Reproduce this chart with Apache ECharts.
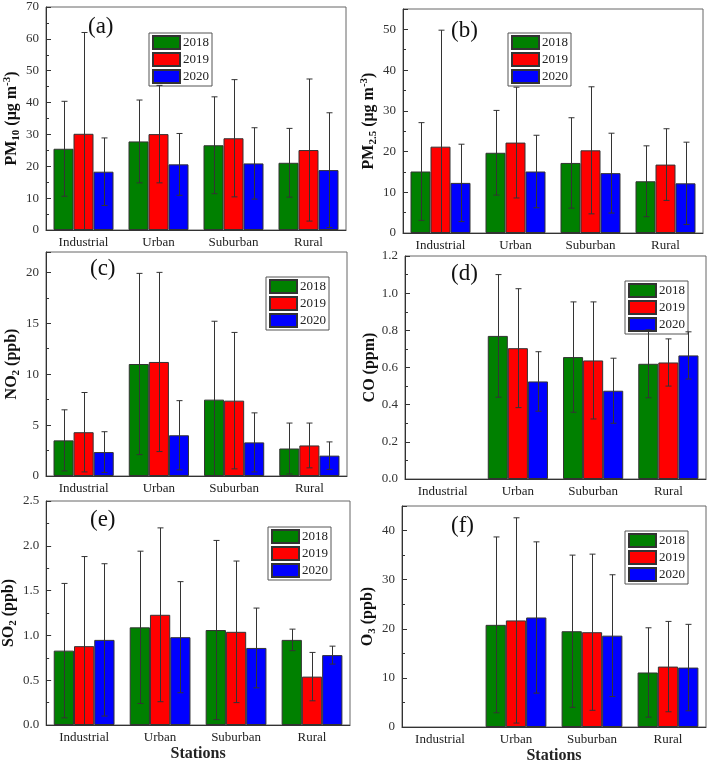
<!DOCTYPE html>
<html>
<head>
<meta charset="utf-8">
<script src="https://cdn.jsdelivr.net/npm/echarts@6/dist/echarts.min.js"></script>
<style>
html,body{margin:0;padding:0;background:#fff;}
#chart{width:708px;height:765px;}
</style>
</head>
<body>
<div id="chart"></div>
<script>
// ---------------- DATA ----------------
const categories = ['Industrial', 'Urban', 'Suburban', 'Rural'];
const years = ['2018', '2019', '2020'];

// rows: 2018, 2019, 2020 ; columns: categories
const pm10Mean = [[25.5, 27.8, 26.6, 21.1], [30.2, 30.1, 28.8, 25.1], [18.3, 20.6, 20.9, 18.8]];
const pm10Sd   = [[14.9, 13.0, 15.2, 10.8], [31.8, 15.3, 18.4, 22.3], [10.6, 9.7, 11.2, 18.0]];

const pm25Mean = [[15.1, 19.7, 17.2, 12.7], [21.2, 22.2, 20.3, 16.8], [12.3, 15.1, 14.7, 12.2]];
const pm25Sd   = [[12.0, 10.4, 11.1, 8.7], [28.6, 13.6, 15.6, 8.8], [9.5, 8.9, 9.8, 10.1]];

const no2Mean = [[3.5, 11.0, 7.5, 2.7], [4.3, 11.2, 7.4, 3.0], [2.35, 4.0, 3.3, 2.0]];
const no2Sd   = [[3.0, 8.9, 7.7, 2.5], [3.9, 8.8, 6.7, 2.2], [2.0, 3.4, 2.9, 1.35]];

const coMean = [[null, 0.770, 0.656, 0.620], [null, 0.704, 0.638, 0.627], [null, 0.525, 0.475, 0.665]];
const coSd   = [[null, 0.33, 0.297, 0.183], [null, 0.32, 0.315, 0.127], [null, 0.16, 0.175, 0.127]];

const so2Mean = [[0.83, 1.09, 1.06, 0.95], [0.88, 1.23, 1.04, 0.54], [0.95, 0.98, 0.86, 0.78]];
const so2Sd   = [[0.75, 0.85, 1.0, 0.12], [1.0, 0.97, 0.79, 0.27], [0.85, 0.62, 0.445, 0.10]];

const o3Mean = [[null, 20.8, 19.5, 11.1], [null, 21.7, 19.3, 12.3], [null, 22.3, 18.6, 12.1]];
const o3Sd   = [[null, 17.9, 15.5, 9.1], [null, 20.9, 15.9, 9.2], [null, 15.4, 12.4, 8.8]];

// axis tick settings [max, interval]
const pm10Axis = [70, 10];
const pm25Axis = [55, 10];
const no2Axis = [22, 5];
const coAxis = [1.2, 0.2];
const so2Axis = [2.5, 0.5];
const o3Axis = [45, 10];

const panelLetters = ['(a)', '(b)', '(c)', '(d)', '(e)', '(f)'];
const yNames = [
  '{b|PM}{sub|10}{b| (μg m}{sup|-3}{b|)}',
  '{b|PM}{sub|2.5}{b| (μg m}{sup|-3}{b|)}',
  '{b|NO}{sub|2}{b| (ppb)}',
  '{b|CO (ppm)}',
  '{b|SO}{sub|2}{b| (ppb)}',
  '{b|O}{sub|3}{b| (ppb)}'
];
const xName = 'Stations';

// ---------------- LAYOUT / STYLE ----------------
const FONT = '"Liberation Serif", "Times New Roman", serif';
const yearColors = ['#008000', '#ff0000', '#0000ff'];

const panels = [
  {mean: pm10Mean, sd: pm10Sd, axis: pm10Axis, grid: {left: 46, top: 7, width: 300, height: 223}, legend: {left: 149, top: 33}, letter: [88, 15], nameGap: 24, showMax: true, xname: false},
  {mean: pm25Mean, sd: pm25Sd, axis: pm25Axis, grid: {left: 403, top: 9, width: 300, height: 224}, legend: {left: 508, top: 33}, letter: [451, 19], nameGap: 24, showMax: false, xname: false},
  {mean: no2Mean, sd: no2Sd, axis: no2Axis, grid: {left: 46, top: 252, width: 301, height: 224}, legend: {left: 266, top: 277}, letter: [90, 257], nameGap: 24, showMax: false, xname: false},
  {mean: coMean, sd: coSd, axis: coAxis, grid: {left: 405, top: 256, width: 301, height: 223}, legend: {left: 625, top: 281}, letter: [451, 262], nameGap: 25, showMax: true, xname: false},
  {mean: so2Mean, sd: so2Sd, axis: so2Axis, grid: {left: 46, top: 501, width: 304, height: 224}, legend: {left: 268, top: 527}, letter: [90, 508], nameGap: 24, showMax: true, xname: true},
  {mean: o3Mean, sd: o3Sd, axis: o3Axis, grid: {left: 402, top: 506, width: 304, height: 223}, legend: {left: 625, top: 531}, letter: [451, 514], nameGap: 24, showMax: false, xname: true}
];

const grids = [], xAxes = [], yAxes = [], series = [], legends = [], graphics = [];

panels.forEach((p, gi) => {
  grids.push(Object.assign({show: true, borderColor: '#666', borderWidth: 1, backgroundColor: 'transparent'}, p.grid));
  xAxes.push({
    type: 'category', gridIndex: gi, data: categories,
    axisLine: {show: true, lineStyle: {color: '#333', width: 1}},
    axisTick: {show: false},
    axisLabel: {color: '#222', fontFamily: FONT, fontSize: 13, margin: 6},
    name: p.xname ? xName : '',
    nameLocation: 'middle', nameGap: 21,
    nameTextStyle: {fontFamily: FONT, fontSize: 16, fontWeight: 'bold', color: '#222'}
  });
  yAxes.push({
    type: 'value', gridIndex: gi, min: 0, max: p.axis[0], interval: p.axis[1],
    splitLine: {show: false},
    axisLine: {show: true, lineStyle: {color: '#333', width: 1}},
    axisTick: {show: true, inside: true, length: 5, lineStyle: {color: '#333'}},
    minorTick: {show: true, splitNumber: 2, length: 3, lineStyle: {color: '#333'}},
    minorSplitLine: {show: false},
    axisLabel: {color: '#333', fontFamily: FONT, fontSize: 13, margin: 7, showMaxLabel: p.showMax,
      formatter: v => (p.axis[1] < 1 ? v.toFixed(1) : String(v))},
    name: yNames[gi], nameLocation: 'middle', nameGap: p.nameGap, nameRotate: 90,
    nameTextStyle: {
      color: '#111',
      rich: {
        b: {fontFamily: FONT, fontSize: 16, fontWeight: 'bold', lineHeight: 20, color: '#111'},
        sub: {fontFamily: FONT, fontSize: 11, fontWeight: 'bold', lineHeight: 10, verticalAlign: 'bottom', color: '#111'},
        sup: {fontFamily: FONT, fontSize: 11, fontWeight: 'bold', lineHeight: 10, verticalAlign: 'top', color: '#111'}
      }
    }
  });
  years.forEach((yr, yi) => {
    series.push({
      type: 'bar', name: yr, xAxisIndex: gi, yAxisIndex: gi,
      data: p.mean[yi],
      barGap: '0%', barCategoryGap: '20%',
      itemStyle: {color: yearColors[yi], borderColor: '#333', borderWidth: 1},
      emphasis: {disabled: true},
      z: 2
    });
  });
  years.forEach((yr, yi) => {
    const data = [];
    categories.forEach((c, ci) => {
      const m = p.mean[yi][ci];
      if (m !== null) data.push([ci, m, p.sd[yi][ci]]);
    });
    series.push({
      type: 'custom', name: 'err' + yr, xAxisIndex: gi, yAxisIndex: gi,
      data: data, encode: {x: 0, y: 1}, silent: true, z: 5,
      renderItem: function (params, api) {
        const ci = api.value(0), m = api.value(1), s = api.value(2);
        const cw = api.size([1, 0])[0];
        const bw = cw * 0.8 / 3;
        const xc = Math.round(api.coord([ci, 0])[0] + (yi - 1) * bw) + 0.5;
        const lowVal = Math.max(0, m - s);
        const yHi = api.coord([ci, m + s])[1];
        const yLo = api.coord([ci, lowVal])[1];
        const st = {stroke: '#333', lineWidth: 1};
        const cap = 3;
        const children = [
          {type: 'line', shape: {x1: xc, y1: yHi, x2: xc, y2: yLo}, style: st},
          {type: 'line', shape: {x1: xc - cap, y1: yHi, x2: xc + cap, y2: yHi}, style: st}
        ];
        if (m - s > 0) children.push({type: 'line', shape: {x1: xc - cap, y1: yLo, x2: xc + cap, y2: yLo}, style: st});
        return {type: 'group', children: children};
      }
    });
  });
  legends.push({
    left: p.legend.left, top: p.legend.top, orient: 'vertical',
    data: years, icon: 'rect', itemWidth: 27, itemHeight: 13, itemGap: 2,
    padding: [2, 3, 2, 3], borderColor: '#555', borderWidth: 1,
    selectedMode: false,
    textStyle: {fontFamily: FONT, fontSize: 13, color: '#222', padding: [0, 0, 0, -2]}
  });
  graphics.push({
    type: 'text', left: p.letter[0], top: p.letter[1],
    style: {text: panelLetters[gi], font: '23px ' + FONT, fill: '#111'}
  });
});

const chart = echarts.init(document.getElementById('chart'), null, {renderer: 'canvas'});
chart.setOption({
  animation: false,
  backgroundColor: '#fff',
  grid: grids, xAxis: xAxes, yAxis: yAxes, series: series, legend: legends, graphic: graphics
});
</script>
</body>
</html>
